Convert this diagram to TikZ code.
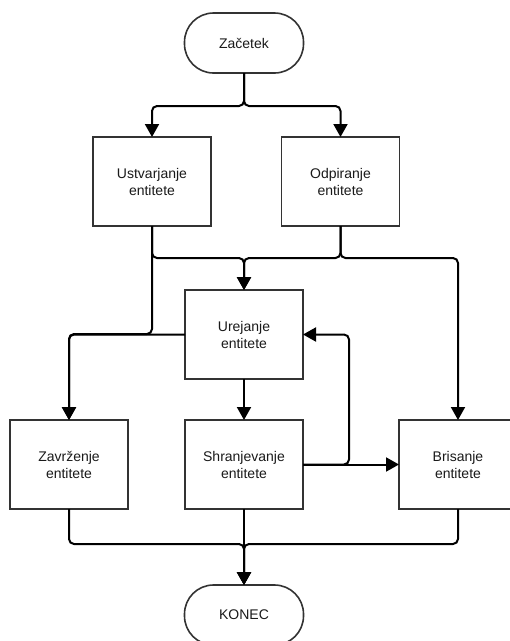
\documentclass[tikz,border=0pt]{standalone}
\usepackage{fontspec}
\setmainfont{Liberation Sans}
\usetikzlibrary{arrows.meta}
\definecolor{boxline}{HTML}{333333}
\definecolor{txt}{HTML}{1A1A1A}
\tikzset{
  base/.style={draw=boxline, line width=1.6pt, fill=white, text=txt, align=center,
    font=\fontsize{14}{17}\selectfont, inner sep=0pt, outer sep=0pt},
  procbox/.style={base, rectangle, minimum width=118pt, minimum height=89pt},
  termbox/.style={base, rectangle, rounded corners=29pt, minimum width=119pt, minimum height=60pt},
  conn/.style={draw=black, line width=2pt, rounded corners=5pt,
    -{Triangle[width=14pt,length=13pt]}}
}
\begin{document}
\begin{tikzpicture}[x=1pt,y=-1pt]
\useasboundingbox (0,0) rectangle (510,641);
\clip (0,0) rectangle (510,641);
\node[termbox] (start) at (244,43) {Začetek};
\node[procbox] (ustv) at (152,181.5) {Ustvarjanje\\entitete};
\node[procbox] (odp) at (340.5,181.5) {Odpiranje\\entitete};
\node[procbox] (urej) at (244,334.5) {Urejanje\\entitete};
\node[procbox] (zav) at (69,464.5) {Zavrženje\\entitete};
\node[procbox] (shran) at (244,464.5) {Shranjevanje\\entitete};
\node[procbox] (bris) at (458,464.5) {Brisanje\\entitete};
\node[termbox] (konec) at (244,615) {KONEC};

\draw[conn] (start.south) -- ++(0,33) -| (ustv.north);
\draw[conn] (start.south) -- ++(0,33) -| (odp.north);
\draw[conn] (ustv.south) -- ++(0,32) -| (urej.north);
\draw[conn] (odp.south) -- ++(0,32) -| (urej.north);
\draw[conn] (odp.south) -- ++(0,32) -| (bris.north);
\draw[conn] (ustv.south) -- ++(0,108) -| (zav.north);
\draw[conn] (urej.west) -| (zav.north);
\draw[conn] (urej.south) -- (shran.north);
\draw[conn] (shran.east) -- (bris.west);
\draw[conn] (shran.east) -- ++(46,0) |- (urej.east);
\draw[conn] (zav.south) -- ++(0,35) -| (konec.north);
\draw[conn] (shran.south) -- (konec.north);
\draw[conn] (bris.south) -- ++(0,35) -| (konec.north);
\end{tikzpicture}
\end{document}
